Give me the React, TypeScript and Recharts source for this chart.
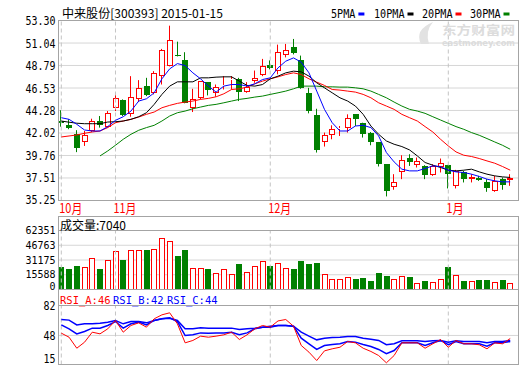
import React from 'react';
import { ComposedChart, Bar, Line, XAxis, YAxis, CartesianGrid, ReferenceLine } from 'recharts';

// daily candles, 2014-10-23 .. 2015-01-15
const opens = [43.25, 42.8, 41.95, 41.16, 42.22, 43.22, 42.66, 44.55, 45.29, 43.89, 45.39, 46.72, 46.05, 47.78, 48.78, 49.88, 49.32, 44.55, 45.55, 47.12, 45.99, 46.72, 47.32, 47.45, 46.12, 47.22, 47.88, 48.85, 48.2, 49.82, 50.6, 49.38, 45.98, 43.79, 41.16, 41.82, 42.46, 42.56, 43.89, 42.99, 41.99, 41.12, 38.89, 36.56, 38.06, 39.56, 38.82, 38.66, 37.79, 38.62, 38.82, 36.72, 38.12, 37.39, 37.46, 37.12, 36.23, 37.39, 37.32];
const closes = [43.05, 42.55, 40.55, 41.82, 43.19, 42.79, 44.05, 45.55, 43.79, 45.65, 46.55, 45.79, 48.05, 50.3, 51.38, 49.72, 45.05, 45.45, 47.22, 46.38, 46.62, 46.88, 47.45, 46.12, 46.62, 47.55, 48.72, 48.55, 50.1, 50.38, 50.0, 46.55, 44.22, 40.32, 41.82, 42.39, 42.52, 43.49, 43.39, 41.89, 41.12, 38.89, 36.23, 37.06, 39.29, 39.12, 39.22, 37.79, 38.72, 38.99, 37.89, 38.22, 37.39, 37.56, 37.29, 36.46, 37.22, 36.79, 37.49];
const highs = [44.3, 43.4, 42.3, 42.22, 43.45, 43.72, 44.22, 46.05, 45.39, 47.72, 47.32, 47.55, 48.22, 50.45, 52.78, 51.18, 50.12, 46.45, 47.22, 47.12, 46.88, 47.72, 47.72, 47.55, 47.12, 48.28, 49.45, 49.3, 50.88, 50.95, 51.45, 49.78, 46.55, 44.45, 42.06, 42.79, 42.72, 43.89, 43.89, 43.05, 42.12, 41.12, 38.89, 37.89, 39.79, 39.89, 39.56, 38.79, 38.89, 39.46, 38.82, 38.32, 38.22, 37.89, 37.72, 37.39, 37.72, 37.56, 37.89];
const lows = [42.65, 42.4, 40.1, 40.72, 42.12, 42.56, 42.56, 44.22, 43.72, 43.65, 45.12, 45.72, 45.89, 46.88, 48.7, 49.7, 45.0, 44.12, 45.39, 45.79, 45.65, 46.38, 46.38, 45.22, 46.05, 47.05, 47.72, 48.4, 47.9, 49.6, 49.9, 46.45, 43.99, 40.06, 40.66, 41.39, 41.72, 42.06, 42.72, 41.56, 40.79, 38.66, 35.66, 36.33, 37.39, 38.72, 38.56, 37.39, 37.72, 38.06, 36.46, 36.46, 37.06, 37.06, 37.22, 36.12, 36.12, 36.33, 36.72];
const volumes = [23600, 22190, 25360, 23950, 33470, 22190, 31700, 40160, 31700, 41920, 41920, 42270, 42980, 54600, 50730, 35930, 41220, 22900, 22900, 21140, 17610, 21140, 16560, 26420, 18670, 25010, 29940, 24310, 28180, 22900, 21140, 29940, 26420, 28530, 16560, 11620, 11620, 13390, 11620, 12680, 9510, 16910, 14090, 11620, 14450, 13390, 6690, 9510, 8450, 10570, 23250, 15500, 9510, 8500, 9800, 9800, 8100, 9800, 7040];

const ma5 = [43.55, 43.39, 42.89, 42.32, 42.22, 42.22, 42.66, 43.29, 43.65, 44.22, 45.22, 45.45, 46.05, 47.45, 48.45, 48.98, 48.78, 48.05, 47.45, 46.72, 46.12, 46.72, 46.88, 46.88, 46.72, 46.95, 47.38, 47.55, 48.55, 49.22, 49.55, 49.12, 48.05, 46.22, 44.39, 43.05, 42.22, 42.22, 42.72, 42.79, 42.56, 41.72, 40.06, 39.12, 38.39, 38.22, 38.22, 38.46, 38.72, 38.66, 38.29, 38.12, 38.06, 37.89, 37.66, 37.39, 37.22, 37.12, 37.12];
const ma10 = [43.22, 43.1, 43.0, 42.95, 42.95, 42.95, 43.12, 43.15, 43.22, 43.39, 43.65, 44.05, 44.89, 45.89, 46.72, 47.15, 47.15, 47.15, 47.55, 47.55, 47.62, 47.65, 47.65, 47.22, 46.79, 46.72, 46.88, 47.45, 47.72, 48.05, 48.22, 48.15, 47.72, 47.05, 46.55, 46.05, 45.55, 45.22, 44.72, 43.89, 42.72, 41.89, 41.22, 40.89, 40.66, 40.32, 39.72, 39.06, 38.79, 38.56, 38.29, 38.22, 38.29, 38.39, 38.12, 37.89, 37.72, 37.62, 37.56];
const ma20 = [41.62, 41.72, 41.82, 41.99, 42.12, 42.22, 42.56, 43.05, 43.22, 43.39, 43.62, 43.89, 44.12, 44.55, 44.79, 44.99, 45.12, 45.22, 45.39, 45.49, 45.65, 45.95, 46.38, 46.45, 46.62, 46.95, 47.22, 47.45, 47.65, 47.88, 48.05, 47.88, 47.45, 47.12, 46.79, 46.38, 46.32, 46.22, 46.12, 45.89, 45.55, 45.05, 44.72, 44.39, 43.89, 43.55, 43.22, 42.66, 42.12, 41.39, 40.72, 40.12, 39.79, 39.66, 39.46, 39.22, 38.99, 38.66, 38.29];
const ma30 = [null, null, null, null, null, 39.72, 40.22, 40.79, 41.39, 41.89, 42.29, 42.56, 42.79, 43.22, 43.72, 44.05, 44.22, 44.45, 44.62, 44.79, 44.89, 45.05, 45.22, 45.39, 45.49, 45.62, 45.72, 45.89, 46.05, 46.22, 46.45, 46.72, 46.72, 46.72, 46.65, 46.65, 46.62, 46.62, 46.55, 46.45, 46.22, 45.89, 45.55, 45.12, 44.72, 44.39, 44.22, 43.99, 43.65, 43.32, 42.99, 42.66, 42.39, 42.06, 41.79, 41.46, 41.12, 40.79, 40.39];

const rsiA = [50.6, 46.0, 33.5, 40.3, 51.7, 49.8, 55.5, 65.0, 51.7, 59.3, 62.3, 57.4, 66.9, 71.4, 73.7, 61.2, 39.6, 42.3, 47.2, 46.0, 47.2, 48.7, 51.7, 43.4, 48.7, 55.5, 59.3, 57.4, 64.5, 66.1, 58.5, 36.6, 29.0, 19.5, 30.5, 32.8, 34.6, 41.1, 39.6, 33.5, 29.8, 25.2, 16.9, 25.2, 39.6, 39.6, 39.6, 33.5, 38.5, 43.4, 34.6, 42.3, 38.5, 38.5, 37.4, 32.8, 39.6, 38.5, 44.5];
const rsiB = [60.0, 55.5, 49.8, 52.5, 56.3, 56.3, 59.3, 63.8, 56.3, 61.2, 63.1, 60.0, 65.0, 66.9, 68.0, 63.8, 47.9, 48.7, 50.9, 50.6, 50.9, 50.9, 51.7, 48.7, 50.9, 55.5, 57.4, 57.4, 59.3, 59.3, 58.5, 44.9, 38.5, 32.1, 36.6, 37.8, 38.5, 41.1, 40.4, 37.8, 35.5, 32.1, 27.2, 30.9, 39.6, 39.6, 39.6, 36.6, 39.6, 42.3, 37.4, 41.1, 38.5, 38.5, 38.5, 35.9, 39.6, 39.6, 41.1];
const rsiC = [66.1, 65.4, 60.0, 61.2, 61.2, 61.9, 63.1, 65.0, 61.2, 63.8, 63.8, 62.3, 65.0, 66.9, 67.6, 65.0, 55.5, 55.5, 56.6, 56.3, 56.3, 56.3, 56.3, 54.8, 55.5, 56.3, 57.4, 58.5, 59.3, 59.3, 58.5, 51.7, 47.2, 43.0, 44.9, 45.7, 46.0, 46.8, 46.8, 44.9, 43.8, 42.3, 37.4, 38.5, 41.9, 41.9, 41.9, 41.1, 41.9, 42.3, 40.4, 41.9, 41.1, 41.1, 41.1, 39.6, 41.1, 41.1, 42.3];

const priceTicks = [35.25, 37.51, 39.76, 42.02, 44.28, 46.53, 48.79, 51.04, 53.3];
const volumeTicks = [0, 15588, 31175, 46763, 62351];
const rsiTicks = [15, 48, 82];
const monthStarts = [0, 7, 27, 50];
const monthLabels = ['10月', '11月', '12月', '1月'];
const maLabels = ['5PMA', '10PMA', '20PMA', '30PMA'];
const rsiLabels = ['RSI_A:46', 'RSI_B:42', 'RSI_C:44'];
const title = '中来股份[300393] 2015-01-15';
const volumeLabel = '成交量:7040';

const RED = '#ff0000';
const GREEN = '#008000';
const BLUE = '#0000ff';
const BORDER = '#a4a4a4';
const GRID = '#d6d6d6';
const DASH = '#c4c4c4';
const MONO = '"DejaVu Sans Mono", "Liberation Mono", monospace';
const CJK = '"Noto Sans CJK SC", "Noto Sans", sans-serif';

const X_DOMAIN: [number, number] = [-0.362, 59.07];
const AXIS_W = 58.5;

const data = opens.map((o, i) => ({
  i,
  open: o,
  close: closes[i],
  high: highs[i],
  low: lows[i],
  range: [lows[i], highs[i]],
  vol: volumes[i],
  ma5: ma5[i],
  ma10: ma10[i],
  ma20: ma20[i],
  ma30: ma30[i],
  rsiA: rsiA[i],
  rsiB: rsiB[i],
  rsiC: rsiC[i],
}));

const Candle = (props: any) => {
  const { x, y, width, height, payload } = props;
  if (x == null || !payload) return null;
  const { open, close, high, low } = payload;
  const top = Math.min(y, y + height);
  const span = Math.abs(height);
  const py = (v: number) => (high === low ? top : top + ((high - v) / (high - low)) * span);
  const bx = Math.round(x + width / 2 - 3);
  const cx = bx + 2.5;
  const yh = py(high);
  const yl = py(low);
  const bt = Math.round(py(Math.max(open, close)));
  const bb = Math.max(Math.round(py(Math.min(open, close))), bt + 1);
  if (close >= open) {
    return (
      <g>
        <line x1={cx} x2={cx} y1={yh} y2={bt} stroke={RED} />
        <line x1={cx} x2={cx} y1={bb} y2={yl} stroke={RED} />
        <rect x={bx + 0.5} y={bt + 0.5} width={5} height={Math.max(bb - bt - 1, 0)} fill="#fff" stroke={RED} />
      </g>
    );
  }
  return (
    <g>
      <line x1={cx} x2={cx} y1={yh} y2={yl} stroke={GREEN} />
      <rect x={bx} y={bt} width={6} height={bb - bt} fill={GREEN} />
    </g>
  );
};

const VolumeBar = (props: any) => {
  const { x, y, width, height, payload } = props;
  if (x == null || !payload) return null;
  const bx = Math.round(x + width / 2 - 3);
  const top = Math.round(y);
  const bot = Math.round(y + height);
  if (payload.close >= payload.open) {
    return <rect x={bx + 0.5} y={top + 0.5} width={5} height={Math.max(bot - top - 1, 0)} fill="#fff" stroke={RED} />;
  }
  return <rect x={bx} y={top} width={6} height={bot - top} fill={GREEN} />;
};

const makeTick = (fmt: (v: number) => string, bottom: number, bottomDy: number, size = 13, dyMid = 4.5) => (props: any) => {
  const { y, payload } = props;
  const s = fmt(payload.value);
  const dy = payload.value === bottom ? bottomDy : dyMid;
  return (
    <text x={55.5} y={y + dy} textAnchor="end" fontFamily={MONO} fontSize={size} fill="#000"
      textLength={s.length * 6} lengthAdjust="spacingAndGlyphs">{s}</text>
  );
};

const MonthTick = (props: any) => {
  const { x, payload } = props;
  const k = monthStarts.indexOf(payload.value);
  const s = monthLabels[k] || '';
  return (
    <text x={x - 2} y={213} fill={RED} fontSize={13} fontFamily={CJK}
      textLength={(s.length - 1) * 5.5 + 12} lengthAdjust="spacingAndGlyphs">{s}</text>
  );
};

const monthLines = monthStarts.map((m) => (
  <ReferenceLine key={m} x={m} stroke={DASH} strokeDasharray="4 3" />
));

const layer: React.CSSProperties = { position: 'absolute', left: 0, top: 0 };

export default function App() {
  const legendX = [331, 374, 422, 470];
  const legendColors = [BLUE, '#000', RED, GREEN];
  const rsiX = [60, 113, 167];
  const rsiColors = [RED, BLUE, BLUE];
  return (
    <div style={{ position: 'absolute', left: 0, top: 0, width: 520, height: 365, background: '#fff', overflow: 'hidden' }}>
      <div style={layer}>
        <ComposedChart width={520} height={365} data={data} margin={{ top: 20.5, right: 1.5, bottom: 149.5, left: 0 }}>
          <CartesianGrid vertical={false} stroke={GRID} />
          <XAxis dataKey="i" type="number" domain={X_DOMAIN} ticks={monthStarts} interval={0}
            axisLine={false} tickLine={false} tick={MonthTick} height={15} allowDataOverflow />
          <YAxis type="number" domain={[35.25, 53.3]} ticks={priceTicks} interval={0} width={AXIS_W}
            axisLine={false} tickLine={false} tick={makeTick((v) => v.toFixed(2), 35.25, 3)} allowDataOverflow />
          {monthLines}
          <Bar dataKey="range" barSize={6} isAnimationActive={false} shape={(p: any) => <Candle {...p} />} />
          <Line dataKey="ma30" stroke={GREEN} dot={false} strokeWidth={1} isAnimationActive={false} />
          <Line dataKey="ma20" stroke={RED} dot={false} strokeWidth={1} isAnimationActive={false} />
          <Line dataKey="ma10" stroke="#000" dot={false} strokeWidth={1} isAnimationActive={false} />
          <Line dataKey="ma5" stroke={BLUE} dot={false} strokeWidth={1} isAnimationActive={false} />
        </ComposedChart>
      </div>
      <div style={layer}>
        <ComposedChart width={520} height={365} data={data} margin={{ top: 230.5, right: 1.5, bottom: 75.5, left: 0 }}>
          <CartesianGrid vertical={false} stroke={GRID} />
          <XAxis dataKey="i" type="number" domain={X_DOMAIN} hide allowDataOverflow />
          <YAxis type="number" domain={[0, 62351]} ticks={volumeTicks} interval={0} width={AXIS_W}
            axisLine={false} tickLine={false} tick={makeTick((v) => String(v), 0, 0.5, 10, 3.5)} allowDataOverflow />
          {monthLines}
          <Bar dataKey="vol" barSize={6} isAnimationActive={false} shape={(p: any) => <VolumeBar {...p} />} />
        </ComposedChart>
      </div>
      <div style={layer}>
        <ComposedChart width={520} height={365} data={data} margin={{ top: 305.5, right: 1.5, bottom: 0.5, left: 0 }}>
          <CartesianGrid vertical={false} stroke={GRID} />
          <XAxis dataKey="i" type="number" domain={X_DOMAIN} hide allowDataOverflow />
          <YAxis type="number" domain={[15, 82]} ticks={rsiTicks} interval={0} width={AXIS_W}
            axisLine={false} tickLine={false} tick={makeTick((v) => String(v), 15, -1.5)} allowDataOverflow />
          {monthLines}
          <Line dataKey="rsiC" stroke={BLUE} dot={false} strokeWidth={1.5} isAnimationActive={false} />
          <Line dataKey="rsiB" stroke={BLUE} dot={false} strokeWidth={1.5} isAnimationActive={false} />
          <Line dataKey="rsiA" stroke={RED} dot={false} strokeWidth={1} isAnimationActive={false} />
        </ComposedChart>
      </div>
      <svg width={520} height={365} style={{ ...layer, pointerEvents: 'none' }}>
        {/* watermark */}
        <path d="M421 44 Q414 30 433 22 Q425 31 429 44 Z" fill="#e2e2e2" />
        <text x={442} y={35} fontSize={12} fontWeight="bold" fill="#dcdcdc" fontFamily={CJK}
          textLength={73} lengthAdjust="spacingAndGlyphs">东方财富网</text>
        <text x={442} y={45.5} fontSize={8} fontWeight="bold" fill="#dcdcdc" fontFamily="DejaVu Sans"
          textLength={73} lengthAdjust="spacingAndGlyphs">eastmoney.com</text>

        <text x={62} y={18} fontSize={12} fontFamily={CJK} fill="#000"
          textLength={161} lengthAdjust="spacingAndGlyphs">{title}</text>
        <text y={18} fontSize={13} fontFamily={MONO} fill="#000">
          {maLabels.map((s, k) => (
            <tspan key={s} x={legendX[k]} textLength={s.length * 6.1} lengthAdjust="spacingAndGlyphs">{s}</tspan>
          ))}
        </text>
        {maLabels.map((s, k) => (
          <rect key={s} x={legendX[k] + s.length * 6.1 + 3} y={12.5} width={6} height={3} fill={legendColors[k]} />
        ))}

        <rect x={58.5} y={20.5} width={460} height={180} fill="none" stroke={BORDER} />

        <rect x={58.5} y={216.5} width={460} height={73} fill="none" stroke={BORDER} />
        <line x1={58.5} x2={518.5} y1={230.5} y2={230.5} stroke={BORDER} />
        <text x={60} y={229.5} fontSize={12} fontFamily={CJK} fill="#000"
          textLength={66} lengthAdjust="spacingAndGlyphs">{volumeLabel}</text>

        <rect x={58.5} y={289.5} width={460} height={75} fill="none" stroke={BORDER} />
        <line x1={58.5} x2={518.5} y1={305.5} y2={305.5} stroke={BORDER} />
        {rsiLabels.map((s, k) => (
          <text key={s} x={rsiX[k]} y={303.5} fontSize={10.5} fontFamily={MONO} fill={rsiColors[k]}>{s}</text>
        ))}
      </svg>
    </div>
  );
}
